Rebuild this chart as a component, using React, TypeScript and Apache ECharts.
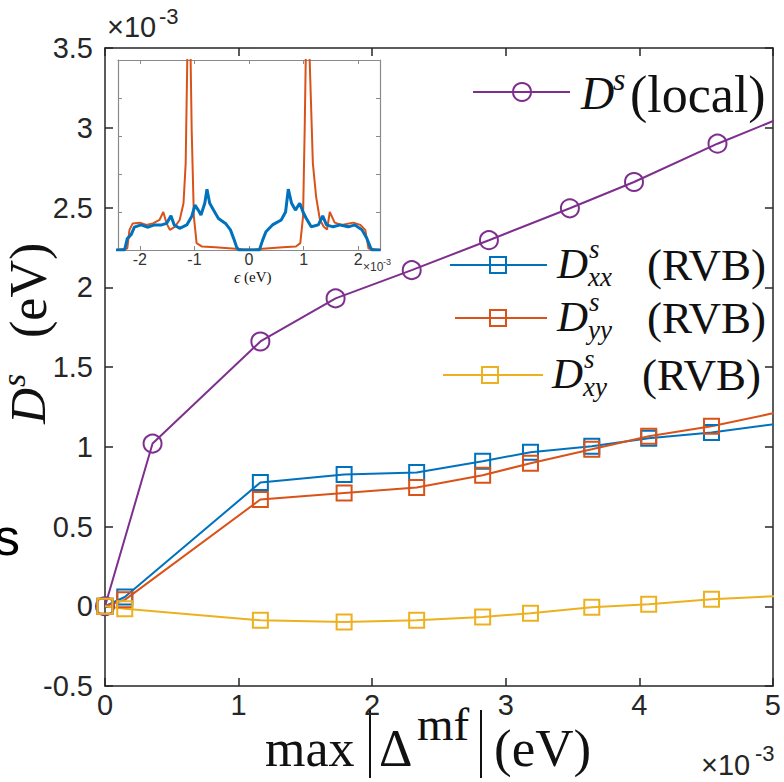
import React, { useEffect, useRef } from "react";
import * as echarts from "echarts";

// Main panel: superfluid weight vs. max |Δ^mf| (both in units of 1e-3 eV)
const localGap = [0, 0.356, 1.163, 1.726, 2.296, 2.874, 3.48, 3.96, 4.585, 5.2];
const localDs = [0, 1.02, 1.66, 1.93, 2.107, 2.295, 2.495, 2.66, 2.9, 3.11];

const rvbGap = [0, 0.148, 1.163, 1.79, 2.333, 2.827, 3.185, 3.644, 4.07, 4.54, 5.2];
const rvbDxx = [0, 0.058, 0.776, 0.826, 0.838, 0.909, 0.966, 1.003, 1.053, 1.09, 1.162];
const rvbDyy = [0, 0.04, 0.669, 0.71, 0.744, 0.821, 0.897, 0.984, 1.066, 1.128, 1.245];
const rvbDxy = [0, -0.015, -0.088, -0.098, -0.088, -0.067, -0.044, -0.006, 0.013, 0.044, 0.071];

// Inset: density of states vs. energy ε (units of 1e-3 eV)
const dosLocalE = [
  -2.44, -2.23, -2.19, -2.13, -2.0, -1.88, -1.76, -1.64, -1.57, -1.51, -1.45, -1.36, -1.27,
  -1.2, -1.16, -1.12, -1.08, -1.05, -1.01, -0.96, -0.86, -0.62, -0.31, -0.12, 0, 0.12, 0.31,
  0.62, 0.86, 0.94, 0.99, 1.02, 1.05, 1.09, 1.17, 1.23, 1.3, 1.37, 1.43, 1.48, 1.57, 1.7,
  1.91, 2.04, 2.13, 2.19, 2.41,
];
const dosLocalN = [
  0, 0.04, 0.53, 0.7, 0.72, 0.66, 0.7, 0.79, 1.0, 0.7, 0.53, 0.61, 0.79,
  1.23, 2.28, 6, 6, 3.16, 0.88, 0.18, 0.09, 0.07, 0.04, 0.02, 0.01, 0.02, 0.04,
  0.07, 0.09, 0.18, 0.88, 3.16, 6, 6, 2.28, 1.4, 0.79, 0.61, 0.54, 1.0, 0.72, 0.66,
  0.72, 0.66, 0.53, 0.04, 0,
];
const dosRvbE = [
  -2.44, -2.28, -2.23, -2.16, -2.1, -1.98, -1.85, -1.73, -1.6, -1.51, -1.43, -1.37, -1.27,
  -1.14, -1.05, -0.99, -0.93, -0.88, -0.81, -0.77, -0.72, -0.65, -0.56, -0.43, -0.34, -0.28,
  -0.23, -0.19, 0, 0.19, 0.25, 0.31, 0.43, 0.59, 0.67, 0.72, 0.78, 0.85, 0.93, 0.99, 1.05,
  1.14, 1.27, 1.35, 1.42, 1.54, 1.67, 1.82, 1.94, 2.07, 2.16, 2.22, 2.25, 2.41,
];
const dosRvbN = [
  0, 0, 0.3, 0.4, 0.6, 0.66, 0.6, 0.66, 0.66, 0.7, 0.9, 0.66, 0.57,
  0.66, 0.88, 1.18, 1.05, 0.92, 1.23, 1.6, 1.23, 1.05, 0.83, 0.7, 0.53, 0.3,
  0.09, 0, 0, 0, 0.26, 0.48, 0.66, 0.79, 1.0, 1.6, 1.23, 1.05, 1.23, 1.0, 0.83,
  0.61, 0.66, 0.9, 0.66, 0.61, 0.66, 0.61, 0.66, 0.53, 0.3, 0.09, 0, 0,
];

const PURPLE = "#7E2F8E";
const BLUE = "#0072BD";
const ORANGE = "#D95319";
const YELLOW = "#EDB120";
const INK = "#262626";
const SANS = "Liberation Sans, Arial, sans-serif";
const SERIF = "Liberation Serif, Times New Roman, serif";

const pairs = (xs: number[], ys: number[]) => xs.map((x, i) => [x, ys[i]]);

const mainAxisLine = { show: true, onZero: false, lineStyle: { color: INK, width: 1.5 } };
const mainTick = { show: true, inside: true, length: 8, lineStyle: { color: INK, width: 1.5 } };
const insetAxisLine = { show: true, onZero: false, lineStyle: { color: "#8a8a8a", width: 1.2 } };
const insetTick = { show: true, inside: true, length: 4, lineStyle: { color: "#8a8a8a", width: 1 } };

const markerSeries = (
  name: string,
  xs: number[],
  ys: number[],
  color: string,
  symbol: string,
  size: number
) => ({
  name,
  type: "line",
  xAxisIndex: 0,
  yAxisIndex: 0,
  data: pairs(xs, ys),
  symbol,
  symbolSize: size,
  showAllSymbol: true,
  clip: true,
  lineStyle: { color, width: 2 },
  itemStyle: { color: "rgba(0,0,0,0)", borderColor: color, borderWidth: 2 },
  emphasis: { disabled: true },
});

const txt = (
  text: string,
  x: number,
  y: number,
  size: number,
  opts: Record<string, any> = {}
) => ({
  type: "text",
  x,
  y,
  silent: true,
  style: {
    text,
    fontSize: size,
    fontFamily: opts.family || SERIF,
    fontStyle: opts.italic ? "italic" : "normal",
    fill: opts.fill || "#111",
    textAlign: opts.align || "left",
    textVerticalAlign: "middle",
  },
});

// legend rows drawn as graphic elements (line + open marker + math-style label)
const legendRow = (
  color: string,
  marker: "circle" | "square",
  x1: number,
  x2: number,
  mx: number,
  y: number
) => {
  const els: any[] = [
    { type: "line", shape: { x1, y1: y, x2, y2: y }, style: { stroke: color, lineWidth: 2 }, silent: true },
  ];
  if (marker === "circle") {
    els.push({ type: "circle", shape: { cx: mx, cy: y, r: 9 }, style: { fill: "none", stroke: color, lineWidth: 2 }, silent: true });
  } else {
    els.push({ type: "rect", shape: { x: mx - 8, y: y - 8, width: 16, height: 16 }, style: { fill: "none", stroke: color, lineWidth: 2 }, silent: true });
  }
  return els;
};

const rvbLabel = (sub: string, dx: number, y: number, px: number) => [
  txt("D", dx, y - 2, 43, { italic: true }),
  txt("s", dx + 32, y - 16, 27, { italic: true }),
  txt(sub, dx + 31, y + 12, 27, { italic: true }),
  txt("(RVB)", px, y, 45),
];

const graphics: any[] = [
  // exponent notes
  txt("×10", 107, 27, 29, { family: SANS, fill: INK }),
  txt("-3", 159, 16, 22, { family: SANS, fill: INK }),
  txt("×10", 701, 765, 29, { family: SANS, fill: INK }),
  txt("-3", 755, 753, 22, { family: SANS, fill: INK }),
  txt("×10", 363, 267, 12, { family: SANS, fill: "#333" }),
  txt("-3", 383, 262, 9, { family: SANS, fill: "#333" }),
  txt("ϵ", 234, 277, 16, { italic: true }),
  txt("(eV)", 244, 277, 15),
  // stray glyph at the left edge
  txt("s", -6, 537, 52, { family: SANS, fill: "#000" }),
  // x-axis title: max |Δ^mf| (eV)
  txt("max", 265, 748, 52),
  { type: "line", shape: { x1: 370, y1: 710, x2: 370, y2: 778 }, style: { stroke: "#111", lineWidth: 2 }, silent: true },
  txt("Δ", 379, 748, 52),
  txt("mf", 417, 724, 47),
  { type: "line", shape: { x1: 481, y1: 710, x2: 481, y2: 778 }, style: { stroke: "#111", lineWidth: 2 }, silent: true },
  txt("(eV)", 494, 748, 53),
  // y-axis title: D^s (eV), reading upwards
  {
    type: "group",
    x: 28,
    y: 424,
    rotation: Math.PI / 2,
    children: [
      txt("D", 0, 0, 50, { italic: true }),
      txt("s", 37, -15, 34, { italic: true }),
      txt("(eV)", 86, 0, 52),
    ],
  },
  // legend
  ...legendRow(PURPLE, "circle", 473, 570, 522, 92),
  txt("D", 581, 93, 46, { italic: true }),
  txt("s", 613, 79, 32, { italic: true }),
  txt("(local)", 630, 94, 52),
  ...legendRow(BLUE, "square", 450, 547, 498, 265),
  ...rvbLabel("xx", 557, 265, 647),
  ...legendRow(ORANGE, "square", 455, 547, 498, 318),
  ...rvbLabel("yy", 557, 318, 647),
  ...legendRow(YELLOW, "square", 443, 543, 490, 375),
  ...rvbLabel("xy", 552, 375, 642),
];

const option: any = {
  animation: false,
  backgroundColor: "#fff",
  grid: [
    { left: 105, top: 48, width: 675, height: 638, show: false },
    { left: 118, top: 60, width: 262, height: 190, show: true, backgroundColor: "#fff", borderWidth: 0, z: 5 },
  ],
  xAxis: [
    {
      gridIndex: 0, type: "value", min: 0, max: 5, interval: 1, position: "bottom",
      axisLine: mainAxisLine, axisTick: mainTick, splitLine: { show: false },
      axisLabel: { fontSize: 29, fontFamily: SANS, color: INK, margin: 4 },
    },
    {
      gridIndex: 0, type: "value", min: 0, max: 5, interval: 1, position: "top",
      axisLine: mainAxisLine, axisTick: mainTick, splitLine: { show: false }, axisLabel: { show: false },
    },
    {
      gridIndex: 1, type: "value", min: -2.4, max: 2.4, position: "bottom", z: 6,
      axisLine: insetAxisLine, axisTick: insetTick, splitLine: { show: false },
      axisLabel: {
        fontSize: 16, fontFamily: SANS, color: "#333", margin: 1,
        showMinLabel: false, showMaxLabel: false,
        formatter: (v: number) =>
          Math.abs(v - Math.round(v)) < 1e-6 && Math.abs(v) <= 2 ? String(Math.round(v)) : "",
      },
    },
    {
      gridIndex: 1, type: "value", min: -2.4, max: 2.4, position: "top", z: 6,
      axisLine: insetAxisLine, axisTick: insetTick, splitLine: { show: false }, axisLabel: { show: false },
    },
  ],
  yAxis: [
    {
      gridIndex: 0, type: "value", min: -0.5, max: 3.5, interval: 0.5, position: "left",
      axisLine: mainAxisLine, axisTick: mainTick, splitLine: { show: false },
      axisLabel: { fontSize: 29, fontFamily: SANS, color: INK, margin: 12 },
    },
    {
      gridIndex: 0, type: "value", min: -0.5, max: 3.5, interval: 0.5, position: "right",
      axisLine: mainAxisLine, axisTick: mainTick, splitLine: { show: false }, axisLabel: { show: false },
    },
    {
      gridIndex: 1, type: "value", min: 0, max: 5, interval: 1, position: "left", z: 6,
      axisLine: insetAxisLine, axisTick: insetTick, splitLine: { show: false }, axisLabel: { show: false },
    },
    {
      gridIndex: 1, type: "value", min: 0, max: 5, interval: 1, position: "right", z: 6,
      axisLine: insetAxisLine, axisTick: insetTick, splitLine: { show: false }, axisLabel: { show: false },
    },
  ],
  series: [
    markerSeries("local", localGap, localDs, PURPLE, "circle", 18),
    markerSeries("xx", rvbGap, rvbDxx, BLUE, "rect", 15),
    markerSeries("yy", rvbGap, rvbDyy, ORANGE, "rect", 15),
    markerSeries("xy", rvbGap, rvbDxy, YELLOW, "rect", 15),
    {
      name: "dos local", type: "line", xAxisIndex: 2, yAxisIndex: 2, z: 7,
      data: pairs(dosLocalE, dosLocalN), showSymbol: false, clip: true,
      lineStyle: { color: ORANGE, width: 2 }, emphasis: { disabled: true },
    },
    {
      name: "dos rvb", type: "line", xAxisIndex: 2, yAxisIndex: 2, z: 8,
      data: pairs(dosRvbE, dosRvbN), showSymbol: false, clip: true,
      lineStyle: { color: BLUE, width: 3 }, emphasis: { disabled: true },
    },
  ],
  graphic: { elements: graphics },
};

export default function App() {
  const ref = useRef<HTMLDivElement>(null);
  useEffect(() => {
    if (!ref.current) return;
    const chart = echarts.init(ref.current, null, { renderer: "svg" });
    chart.setOption(option);
    return () => chart.dispose();
  }, []);
  return (
    <div
      ref={ref}
      style={{ position: "fixed", left: 0, top: 0, width: 784, height: 782, background: "#fff" }}
    />
  );
}
